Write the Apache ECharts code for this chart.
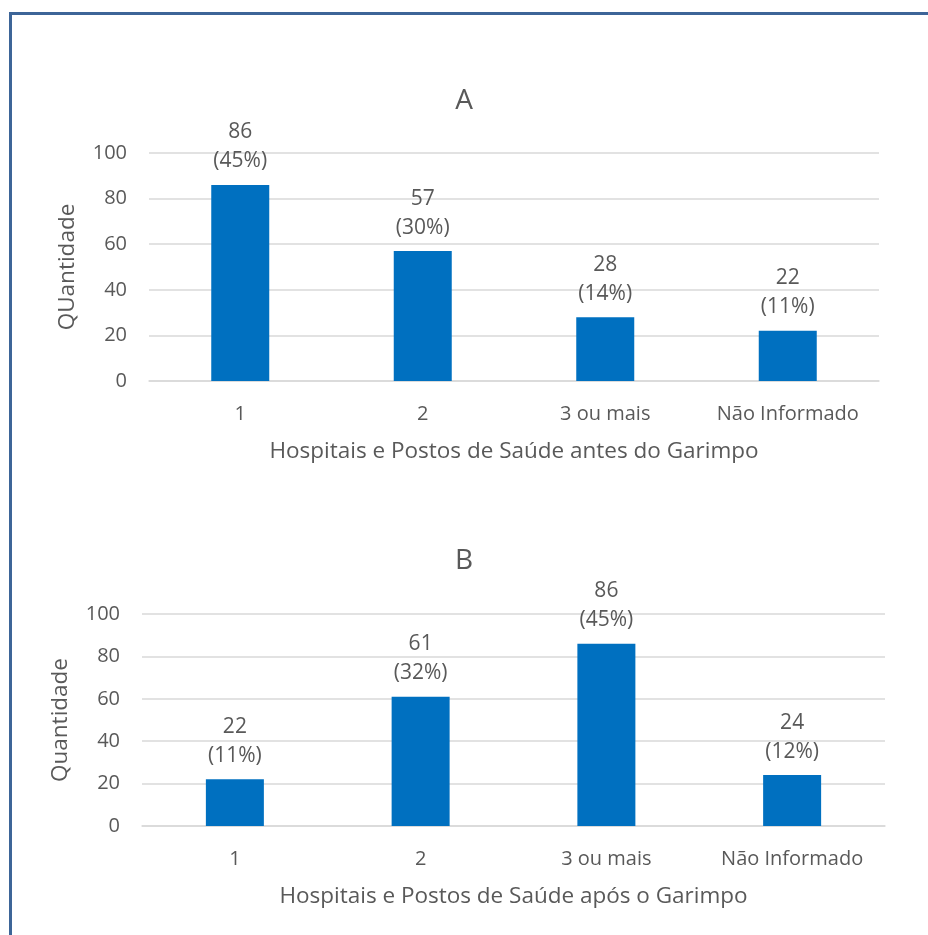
<!DOCTYPE html>
<html>
<head>
<meta charset="utf-8">
<script src="https://cdn.jsdelivr.net/npm/echarts@6/dist/echarts.min.js"></script>
<style>
  html, body { margin: 0; padding: 0; background: #fff; }
  #frame {
    position: absolute; left: 9px; top: 12px; width: 919px; height: 923px;
    border-left: 3px solid #3d6598; border-top: 3px solid #3d6598;
  }
  #chart { position: absolute; left: 0; top: 0; width: 928px; height: 935px; }
</style>
</head>
<body>
<div id="frame"></div>
<div id="chart"></div>
<script>
// categorias e valores
const categories = ['1', '2', '3 ou mais', 'Não Informado'];
const valuesA = [86, 57, 28, 22];
const pctA = [45, 30, 14, 11];
const valuesB = [22, 61, 86, 24];
const pctB = [11, 32, 45, 12];

const textColor = '#595959';
const fontFamily = '"Open Sans", "Noto Sans", sans-serif';

const chart = echarts.init(document.getElementById('chart'), null, { renderer: 'canvas' });

// eixo x base
const xAxisBase = (gridIndex, name) => ({
  type: 'category',
  gridIndex,
  data: categories,
  name,
  nameLocation: 'middle',
  nameGap: 59,
  nameTextStyle: { color: textColor, fontSize: 22.5, fontFamily },
  axisLine: { lineStyle: { color: '#d9d9d9', width: 1.5 } },
  axisTick: { show: false },
  axisLabel: { color: textColor, fontSize: 20, fontFamily, margin: 23, interval: 0, hideOverlap: false },
});

// eixo y base
const yAxisBase = (gridIndex, name) => ({
  type: 'value',
  gridIndex,
  min: 0,
  max: 100,
  interval: 20,
  name,
  nameLocation: 'middle',
  nameGap: 70,
  nameTextStyle: { color: textColor, fontSize: 22.5, fontFamily },
  axisLine: { show: false },
  axisTick: { show: false },
  axisLabel: { color: textColor, fontSize: 20, fontFamily, margin: 22 },
  splitLine: { lineStyle: { color: '#d9d9d9', width: 1.5 } },
});

const seriesBase = (idx, values, pct) => ({
  type: 'bar',
  xAxisIndex: idx,
  yAxisIndex: idx,
  data: values,
  barWidth: 58,
  itemStyle: { color: '#0070c0' },
  label: {
    show: true,
    position: 'top',
    distance: 9,
    color: textColor,
    fontSize: 21,
    fontFamily,
    lineHeight: 29,
    formatter: (p) => `${p.value}\n(${pct[p.dataIndex]}%)`,
  },
});

chart.setOption({
  animation: false,
  title: [
    { text: 'A', left: 'center', top: 82, textStyle: { color: textColor, fontSize: 28, fontWeight: 'normal', fontFamily } },
    { text: 'B', left: 'center', top: 542, textStyle: { color: textColor, fontSize: 28, fontWeight: 'normal', fontFamily } },
  ],
  grid: [
    { left: 149, right: 49, top: 153, height: 228 },
    { left: 142, right: 43, top: 614, height: 212 },
  ],
  xAxis: [
    xAxisBase(0, 'Hospitais e Postos de Saúde antes do Garimpo'),
    xAxisBase(1, 'Hospitais e Postos de Saúde após o Garimpo'),
  ],
  yAxis: [
    yAxisBase(0, 'QUantidade'),
    yAxisBase(1, 'Quantidade'),
  ],
  series: [
    seriesBase(0, valuesA, pctA),
    seriesBase(1, valuesB, pctB),
  ],
});
</script>
</body>
</html>
